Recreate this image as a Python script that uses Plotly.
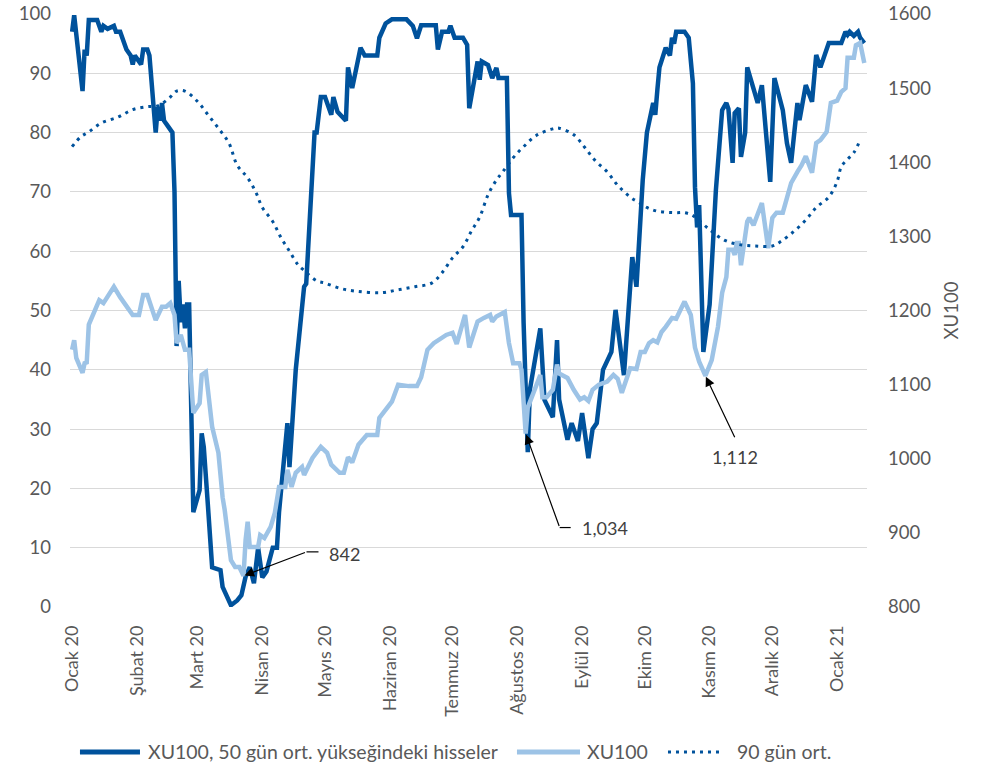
import plotly.graph_objects as go

# --- XU100: share of stocks above their 50-day average (left axis, %) ---
breadth_dates = [
    "2020-01-01", "2020-01-02", "2020-01-06", "2020-01-07", "2020-01-08", "2020-01-09",
    "2020-01-13", "2020-01-14", "2020-01-15", "2020-01-16", "2020-01-18", "2020-01-21",
    "2020-01-22", "2020-01-24", "2020-01-27", "2020-01-29", "2020-01-30", "2020-01-31",
    "2020-02-03", "2020-02-04", "2020-02-06", "2020-02-07", "2020-02-10", "2020-02-11",
    "2020-02-12", "2020-02-13", "2020-02-14", "2020-02-16", "2020-02-18", "2020-02-19",
    "2020-02-20", "2020-02-21", "2020-02-22", "2020-02-23", "2020-02-24", "2020-02-25",
    "2020-02-26", "2020-02-28", "2020-03-02", "2020-03-03", "2020-03-04", "2020-03-06",
    "2020-03-08", "2020-03-12", "2020-03-13", "2020-03-17", "2020-03-20", "2020-03-22",
    "2020-03-24", "2020-03-26", "2020-03-28", "2020-03-30", "2020-04-01", "2020-04-03",
    "2020-04-06", "2020-04-08", "2020-04-09", "2020-04-13", "2020-04-14", "2020-04-17",
    "2020-04-19", "2020-04-21", "2020-04-22", "2020-04-26", "2020-04-27", "2020-04-29",
    "2020-05-01", "2020-05-04", "2020-05-05", "2020-05-07", "2020-05-11", "2020-05-12",
    "2020-05-14", "2020-05-18", "2020-05-20", "2020-05-26", "2020-05-27", "2020-05-30",
    "2020-06-02", "2020-06-09", "2020-06-12", "2020-06-14", "2020-06-16", "2020-06-23",
    "2020-06-24", "2020-06-26", "2020-06-29", "2020-06-30", "2020-07-02", "2020-07-06",
    "2020-07-08", "2020-07-09", "2020-07-13", "2020-07-14", "2020-07-15", "2020-07-18",
    "2020-07-20", "2020-07-22", "2020-07-23", "2020-07-27", "2020-07-28", "2020-07-29",
    "2020-08-03", "2020-08-04", "2020-08-06", "2020-08-07", "2020-08-12", "2020-08-14",
    "2020-08-18", "2020-08-20", "2020-08-21", "2020-08-25", "2020-08-27", "2020-08-30",
    "2020-09-01", "2020-09-04", "2020-09-06", "2020-09-08", "2020-09-11", "2020-09-15",
    "2020-09-17", "2020-09-21", "2020-09-25", "2020-09-27", "2020-09-30", "2020-10-02",
    "2020-10-05", "2020-10-06", "2020-10-07", "2020-10-08", "2020-10-11", "2020-10-13",
    "2020-10-14", "2020-10-15", "2020-10-16", "2020-10-20", "2020-10-22", "2020-10-24",
    "2020-10-25", "2020-10-26", "2020-10-27", "2020-10-28", "2020-10-29", "2020-11-01",
    "2020-11-04", "2020-11-07", "2020-11-09", "2020-11-10", "2020-11-12", "2020-11-13",
    "2020-11-15", "2020-11-16", "2020-11-18", "2020-11-19", "2020-11-22", "2020-11-24",
    "2020-11-26", "2020-11-30", "2020-12-02", "2020-12-06", "2020-12-08", "2020-12-10",
    "2020-12-13", "2020-12-14", "2020-12-17", "2020-12-20", "2020-12-22", "2020-12-24",
    "2020-12-28", "2021-01-03", "2021-01-05", "2021-01-06", "2021-01-07", "2021-01-09",
    "2021-01-11", "2021-01-12", "2021-01-14",
]
breadth_values = [
    97, 99.8, 87, 94, 93, 99,
    99, 98, 97, 98, 97.5, 98,
    97, 97, 94, 93, 91.5, 93,
    91.5, 94, 94, 93, 80, 84.3,
    82, 85, 82, 81, 80, 70,
    44, 55, 48, 51, 47, 51,
    51, 16, 19.7, 29.3, 27, 17,
    6.7, 6.2, 3.4, 0.3, 1.1, 2,
    5.1, 6.7, 4, 10, 5, 6,
    10, 10, 16, 31, 23.6, 40,
    48, 54, 54.5, 80, 80, 86,
    86, 83, 86, 83.5, 82, 91,
    87.5, 94.3, 93, 93, 96, 98.4,
    99.1, 99.1, 98, 95.9, 98.1, 98.1,
    94, 97, 97, 98, 96, 96,
    94.8, 84.1, 92, 88.9, 92, 91.4,
    89.2, 90.9, 89.2, 89.2, 69.8, 66.1,
    66.1, 48, 26.1, 36.6, 47, 34.9,
    32, 45, 35, 28.2, 31, 28,
    32.7, 25.1, 30, 31, 40, 43,
    50.1, 39.1, 59, 54, 72, 80,
    85, 83, 87.2, 91, 94.3, 93,
    96, 95, 97, 97, 96, 88.3,
    70.8, 64, 67.8, 51.2, 43, 51,
    70.3, 83.8, 85, 84, 74.9, 83.3,
    84.1, 75.9, 80, 91, 87.5, 85,
    88, 71.7, 89.2, 83.8, 78.2, 74.9,
    85, 82.1, 88, 85.2, 93.1, 91,
    95.1, 95.1, 97, 96.5, 97, 96.3,
    97, 96, 95.1,
]

# --- XU100 index level (right axis) ---
index_dates = [
    "2020-01-01", "2020-01-02", "2020-01-03", "2020-01-06", "2020-01-07", "2020-01-08",
    "2020-01-09", "2020-01-13", "2020-01-14", "2020-01-16", "2020-01-21", "2020-01-24",
    "2020-01-29", "2020-01-30", "2020-02-02", "2020-02-04", "2020-02-06", "2020-02-10",
    "2020-02-13", "2020-02-15", "2020-02-17", "2020-02-19", "2020-02-20", "2020-02-22",
    "2020-02-24", "2020-02-26", "2020-02-28", "2020-03-02", "2020-03-03", "2020-03-05",
    "2020-03-08", "2020-03-11", "2020-03-13", "2020-03-14", "2020-03-17", "2020-03-19",
    "2020-03-21", "2020-03-23", "2020-03-24", "2020-03-25", "2020-03-26", "2020-03-30",
    "2020-03-31", "2020-04-02", "2020-04-05", "2020-04-07", "2020-04-09", "2020-04-12",
    "2020-04-13", "2020-04-15", "2020-04-17", "2020-04-20", "2020-04-21", "2020-04-25",
    "2020-04-29", "2020-05-02", "2020-05-04", "2020-05-08", "2020-05-10", "2020-05-12",
    "2020-05-14", "2020-05-17", "2020-05-21", "2020-05-26", "2020-05-27", "2020-06-02",
    "2020-06-05", "2020-06-10", "2020-06-14", "2020-06-16", "2020-06-19", "2020-06-22",
    "2020-06-28", "2020-07-01", "2020-07-03", "2020-07-07", "2020-07-09", "2020-07-13",
    "2020-07-16", "2020-07-19", "2020-07-20", "2020-07-22", "2020-07-26", "2020-07-28",
    "2020-07-30", "2020-08-02", "2020-08-03", "2020-08-05", "2020-08-06", "2020-08-08",
    "2020-08-12", "2020-08-13", "2020-08-15", "2020-08-18", "2020-08-20", "2020-08-21",
    "2020-08-25", "2020-08-28", "2020-08-31", "2020-09-02", "2020-09-04", "2020-09-06",
    "2020-09-09", "2020-09-13", "2020-09-16", "2020-09-18", "2020-09-20", "2020-09-24",
    "2020-09-27", "2020-09-29", "2020-10-01", "2020-10-03", "2020-10-05", "2020-10-07",
    "2020-10-09", "2020-10-11", "2020-10-14", "2020-10-16", "2020-10-18", "2020-10-20",
    "2020-10-23", "2020-10-25", "2020-10-27", "2020-10-30", "2020-11-02", "2020-11-05",
    "2020-11-07", "2020-11-09", "2020-11-10", "2020-11-12", "2020-11-13", "2020-11-14",
    "2020-11-15", "2020-11-16", "2020-11-19", "2020-11-20", "2020-11-22", "2020-11-26",
    "2020-11-29", "2020-12-01", "2020-12-03", "2020-12-06", "2020-12-08", "2020-12-10",
    "2020-12-13", "2020-12-15", "2020-12-17", "2020-12-20", "2020-12-22", "2020-12-24",
    "2020-12-27", "2020-12-29", "2021-01-01", "2021-01-03", "2021-01-05", "2021-01-06",
    "2021-01-09", "2021-01-10", "2021-01-12", "2021-01-14",
]
index_values = [
    1147, 1160, 1136, 1116, 1129, 1130,
    1181, 1205, 1214, 1210, 1232, 1218,
    1198, 1194, 1194, 1221, 1221, 1187,
    1205, 1205, 1210, 1194, 1156, 1167,
    1147, 1147, 1062, 1075, 1113, 1117,
    1043, 1008, 948, 931, 863, 854,
    854, 842, 890, 915, 881, 881,
    897, 893, 908, 927, 962, 962,
    985, 962, 981, 989, 978, 1001,
    1016, 1008, 992, 981, 981, 1002,
    995, 1019, 1032, 1032, 1055, 1077,
    1100, 1098, 1098, 1110, 1147, 1156,
    1167, 1170, 1155, 1194, 1150, 1185,
    1190, 1194, 1185, 1192, 1198, 1156,
    1129, 1129, 1120, 1034, 1069, 1083,
    1113, 1083, 1083, 1093, 1127, 1115,
    1109, 1093, 1080, 1083, 1078, 1093,
    1100, 1104, 1113, 1108, 1089, 1122,
    1121, 1144, 1144, 1156, 1160, 1157,
    1171, 1178, 1190, 1189, 1201, 1212,
    1194, 1150, 1131, 1112, 1133, 1178,
    1224, 1245, 1282, 1282, 1275, 1291,
    1291, 1261, 1320, 1325, 1315, 1345,
    1284, 1325, 1332, 1332, 1352, 1372,
    1387, 1396, 1408, 1386, 1426, 1430,
    1441, 1480, 1483, 1495, 1500, 1541,
    1541, 1558, 1561, 1534,
]

# --- XU100 90-day moving average (right axis) ---
ma90_dates = [
    "2020-01-01", "2020-01-05", "2020-01-09", "2020-01-15", "2020-01-23", "2020-01-30",
    "2020-02-06", "2020-02-11", "2020-02-17", "2020-02-20", "2020-02-24", "2020-03-01",
    "2020-03-06", "2020-03-11", "2020-03-16", "2020-03-20", "2020-03-25", "2020-03-29",
    "2020-04-01", "2020-04-06", "2020-04-10", "2020-04-14", "2020-04-18", "2020-04-21",
    "2020-04-27", "2020-05-01", "2020-05-08", "2020-05-16", "2020-05-28", "2020-06-05",
    "2020-06-13", "2020-06-21", "2020-06-26", "2020-07-01", "2020-07-06", "2020-07-10",
    "2020-07-14", "2020-07-18", "2020-07-22", "2020-07-25", "2020-07-30", "2020-08-04",
    "2020-08-10", "2020-08-18", "2020-08-21", "2020-08-28", "2020-09-02", "2020-09-07",
    "2020-09-13", "2020-09-18", "2020-09-24", "2020-09-28", "2020-10-02", "2020-10-07",
    "2020-10-16", "2020-10-20", "2020-10-24", "2020-11-01", "2020-11-08", "2020-11-15",
    "2020-11-23", "2020-12-01", "2020-12-05", "2020-12-11", "2020-12-17", "2020-12-22",
    "2020-12-28", "2021-01-01", "2021-01-03", "2021-01-06", "2021-01-09", "2021-01-12",
]
ma90_values = [
    1421, 1434, 1441, 1453, 1461, 1471,
    1475, 1476, 1488, 1496, 1496, 1482,
    1464, 1446, 1426, 1396, 1379, 1359,
    1339, 1320, 1298, 1280, 1262, 1254,
    1240, 1237, 1230, 1226, 1224, 1228,
    1232, 1237, 1251, 1271, 1286, 1307,
    1326, 1356, 1376, 1387, 1406, 1421,
    1436, 1445, 1446, 1437, 1421, 1403,
    1387, 1369, 1353, 1346, 1339, 1334,
    1332, 1332, 1328, 1309, 1295, 1289,
    1287, 1287, 1293, 1306, 1322, 1339,
    1353, 1374, 1394, 1404, 1413, 1430,
]

# Month ticks on the date axis
month_ticks = [
    "2020-01-01", "2020-02-01", "2020-03-01", "2020-04-01", "2020-05-01", "2020-06-01",
    "2020-07-01", "2020-08-01", "2020-09-01", "2020-10-01", "2020-11-01", "2020-12-01",
    "2021-01-01",
]
month_labels = [
    "Ocak 20", "Şubat 20", "Mart 20", "Nisan 20", "Mayıs 20", "Haziran 20",
    "Temmuz 20", "Ağustos 20", "Eylül 20", "Ekim 20", "Kasım 20", "Aralık 20",
    "Ocak 21",
]

# Called-out index lows: (date, value)
callouts = [("2020-03-23", 842), ("2020-08-05", 1034), ("2020-10-30", 1112)]

DARK = "#00529C"
LIGHT = "#9DC3E6"
TEXT = "#595959"
GRID = "#D9D9D9"
FONT = "Lato, 'Open Sans', sans-serif"

series_names = ["XU100, 50 gün ort. yükseğindeki hisseler", "XU100", "90 gün ort."]
DOT_DASH = "3px,5px"

fig = go.Figure()

fig.add_trace(go.Scatter(
    x=breadth_dates, y=breadth_values, mode="lines", name=series_names[0],
    line=dict(color=DARK, width=4.5), yaxis="y",
))
fig.add_trace(go.Scatter(
    x=index_dates, y=index_values, mode="lines", name=series_names[1],
    line=dict(color=LIGHT, width=4.5), yaxis="y2",
))
fig.add_trace(go.Scatter(
    x=ma90_dates, y=ma90_values, mode="lines", name=series_names[2],
    line=dict(color=DARK, width=3, dash=DOT_DASH, shape="spline"), yaxis="y2",
))

annotations = []
shapes = []

# Arrow callouts for the index lows
callout_geom = {
    # date: (arrow tail dx, dy in px, text dx, text dy, leader length, text anchor)
    "2020-03-23": (63, -24, 84, 22, 12, "left"),
    "2020-08-05": (34, 94, 54, -94, 11, "left"),
    "2020-10-30": (30, 63, 30, -81, 0, "center"),
}
for date, val in callouts:
    tx, ty, lx, ly, lead, anchor = callout_geom[date]
    annotations.append(dict(
        x=date, y=val, xref="x", yref="y2", text="", showarrow=True,
        ax=tx, ay=ty, arrowhead=2, arrowsize=1.6, arrowwidth=1.2,
        arrowcolor="#000000", standoff=1,
    ))
    if lead:
        shapes.append(dict(
            type="line", xref="x", yref="y2", xsizemode="pixel", ysizemode="pixel",
            xanchor=date, yanchor=val, x0=tx, x1=tx + lead, y0=-ty, y1=-ty,
            line=dict(color="#000000", width=1.2),
        ))
    annotations.append(dict(
        x=date, y=val, xref="x", yref="y2", text=f"{val:,}", showarrow=False,
        xshift=lx, yshift=ly, xanchor=anchor, yanchor="middle",
        font=dict(family=FONT, size=18, color="#404040"),
    ))

# Legend row below the chart (paper coordinates)
LEG_Y = -0.2445
legend_items = [
    # (sample x0, sample x1, text x, colour, width, dash)
    (0.0125, 0.0878, 0.0954, DARK, 5, "solid"),
    (0.5608, 0.6399, 0.6462, LIGHT, 5, "solid"),
    (0.7503, 0.8181, 0.8344, DARK, 3, DOT_DASH),
]
for name, (sx0, sx1, tx, col, w, dash) in zip(series_names, legend_items):
    shapes.append(dict(
        type="line", xref="paper", yref="paper", x0=sx0, x1=sx1, y0=LEG_Y, y1=LEG_Y,
        line=dict(color=col, width=w, dash=dash),
    ))
    annotations.append(dict(
        x=tx, y=LEG_Y, xref="paper", yref="paper", text=name, showarrow=False,
        xanchor="left", yanchor="middle",
        font=dict(family=FONT, size=19.5, color=TEXT),
    ))

fig.update_layout(
    width=986, height=769,
    margin=dict(l=70, r=119, t=14, b=162, autoexpand=False),
    paper_bgcolor="white", plot_bgcolor="white",
    font=dict(family=FONT, size=18, color=TEXT),
    showlegend=False,
    xaxis=dict(
        type="date", range=["2019-12-31", "2021-01-15 07:00"],
        tickvals=month_ticks, ticktext=month_labels, tickangle=-90,
        showgrid=False, showline=False, zeroline=False, ticks="",
        tickfont=dict(family=FONT, size=18, color=TEXT), ticklabelstandoff=14,
        automargin=False,
    ),
    yaxis=dict(
        range=[0, 100], dtick=10, showgrid=True, gridcolor=GRID, gridwidth=1.3,
        zeroline=False, showline=False, ticks="",
        tickfont=dict(family=FONT, size=18.5, color=TEXT), ticklabelstandoff=18,
        automargin=False,
    ),
    yaxis2=dict(
        range=[800, 1600], dtick=100, overlaying="y", side="right",
        showgrid=False, zeroline=False, showline=False, ticks="",
        tickfont=dict(family=FONT, size=18.5, color=TEXT), ticklabelstandoff=20,
        title=dict(text="XU100", font=dict(family=FONT, size=18.5, color=TEXT), standoff=14),
        automargin=False,
    ),
    annotations=annotations,
    shapes=shapes,
)

fig.write_html("out.html")
